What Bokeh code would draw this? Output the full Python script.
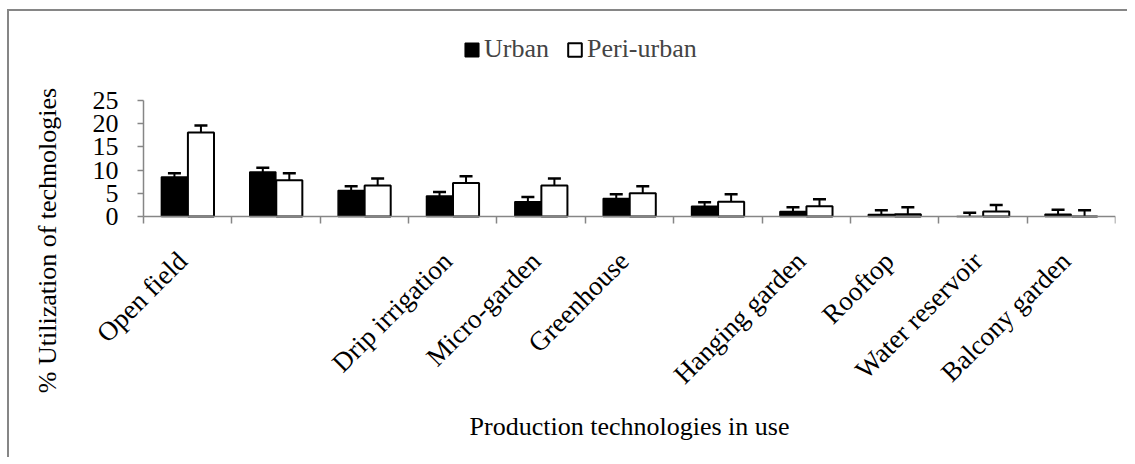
import math
from bokeh.plotting import figure
from bokeh.models import (Range1d, FixedTicker, ColumnDataSource, Whisker, TeeHead,
                          Legend, LegendItem, LinearAxis)
from bokeh.embed import file_html
from bokeh.resources import INLINE

categories = ["Open field", "", "", "Drip irrigation", "Micro-garden", "Greenhouse", "",
              "Hanging garden", "Rooftop", "Water reservoir", "Balcony garden"]
urban = [8.5, 9.6, 5.6, 4.4, 3.2, 3.9, 2.2, 1.1, 0.45, 0.0, 0.5]
urban_err = [0.8, 0.9, 0.9, 0.9, 1.0, 0.9, 0.9, 0.9, 0.9, 0.8, 0.95]
peri = [18.1, 7.8, 6.7, 7.2, 6.7, 5.0, 3.2, 2.2, 0.5, 1.1, 0.0]
peri_err = [1.5, 1.5, 1.5, 1.5, 1.5, 1.5, 1.6, 1.5, 1.5, 1.4, 1.35]
y_ticks = [0, 5, 10, 15, 20, 25]
series_names = ["Urban", "Peri-urban"]

FONT = "Liberation Serif"
GRAY = "#868686"

n = len(categories)
centers = [i + 0.5 for i in range(n)]
off = 0.15
bw = 0.295
label_shift = 0.06  # rotated label anchor nudge (style only)

src_u = ColumnDataSource(dict(x=[c - off for c in centers], top=urban,
                              up=[v + e for v, e in zip(urban, urban_err)]))
src_p = ColumnDataSource(dict(x=[c + off for c in centers], top=peri,
                              up=[v + e for v, e in zip(peri, peri_err)]))

# the frame spans nearly the whole chart so the titles centre like the original;
# both axes sit at 0 inside it
p = figure(width=1120, height=448, x_range=Range1d(-0.7696, n), y_range=Range1d(-50.43, 40.09),
           output_backend="svg", toolbar_location=None,
           min_border_left=66, min_border_right=14, min_border_top=19, min_border_bottom=9)
p.styles = {"margin-left": "7px", "margin-top": "9px",
            "border-left": "2px solid #868686", "border-top": "2px solid #868686"}
p.outline_line_color = None
p.xgrid.visible = False
p.ygrid.visible = False

ru = p.vbar(x="x", top="top", width=bw, source=src_u, fill_color="black",
            line_color="black", line_width=1.5)
rp = p.vbar(x="x", top="top", width=bw, source=src_p, fill_color="white",
            line_color="black", line_width=2)

for src in (src_u, src_p):
    w = Whisker(base="x", lower="top", upper="up", source=src, dimension="height",
                line_color="black", line_width=2, lower_head=None,
                upper_head=TeeHead(size=13, line_color="black", line_width=2.5))
    p.add_layout(w)

# y axis (ticks/labels) fixed at x=0
ya = p.yaxis[0]
ya.fixed_location = 0
ya.bounds = (0, 25)
ya.ticker = FixedTicker(ticks=y_ticks, minor_ticks=[])
ya.axis_line_color = GRAY
ya.axis_line_width = 1.5
ya.major_tick_line_color = GRAY
ya.major_tick_line_width = 1.5
ya.major_tick_in = 0
ya.major_tick_out = 6
ya.major_label_standoff = 19
ya.major_label_text_font = FONT
ya.major_label_text_font_size = "26px"
ya.major_label_text_color = "black"

# y title on a bare axis at the frame edge
ta = LinearAxis(ticker=FixedTicker(ticks=[], minor_ticks=[]), axis_line_color=None,
                major_tick_out=0, major_tick_in=0, minor_tick_out=0, minor_tick_in=0,
                axis_label="% Utilization of technologies", axis_label_standoff=14,
                axis_label_text_font=FONT, axis_label_text_font_size="26px",
                axis_label_text_font_style="normal", axis_label_text_color="black")
p.add_layout(ta, "left")

# x axis: labels at centres, tick marks at boundaries (minor)
label_pos = [c - label_shift for c in centers]
xa = p.xaxis[0]
xa.fixed_location = 0
xa.bounds = (0, n)
xa.ticker = FixedTicker(ticks=label_pos, minor_ticks=list(range(n + 1)))
xa.major_label_overrides = {c: lab for c, lab in zip(label_pos, categories)}
xa.axis_line_color = GRAY
xa.axis_line_width = 1.5
xa.major_tick_in = 0
xa.major_tick_out = 0
xa.minor_tick_in = 0
xa.minor_tick_out = 7
xa.minor_tick_line_color = GRAY
xa.minor_tick_line_width = 1.5
xa.major_label_orientation = math.pi / 4
xa.major_label_standoff = 33
xa.major_label_text_font = FONT
xa.major_label_text_font_size = "27px"
xa.major_label_text_color = "black"
xa.axis_label = "Production technologies in use"
xa.axis_label_text_font = FONT
xa.axis_label_text_font_size = "26px"
xa.axis_label_text_font_style = "normal"
xa.axis_label_text_color = "black"
xa.axis_label_standoff = 9

legend = Legend(items=[LegendItem(label=series_names[0], renderers=[ru]),
                       LegendItem(label=series_names[1], renderers=[rp])],
                orientation="horizontal", location=(388, 386),
                label_text_font=FONT, label_text_font_size="26px",
                glyph_width=17, glyph_height=17, label_standoff=4, spacing=17,
                padding=0, margin=0, border_line_color=None, background_fill_alpha=0)
p.add_layout(legend, "center")

open("out.html", "w").write(file_html(p, INLINE))
